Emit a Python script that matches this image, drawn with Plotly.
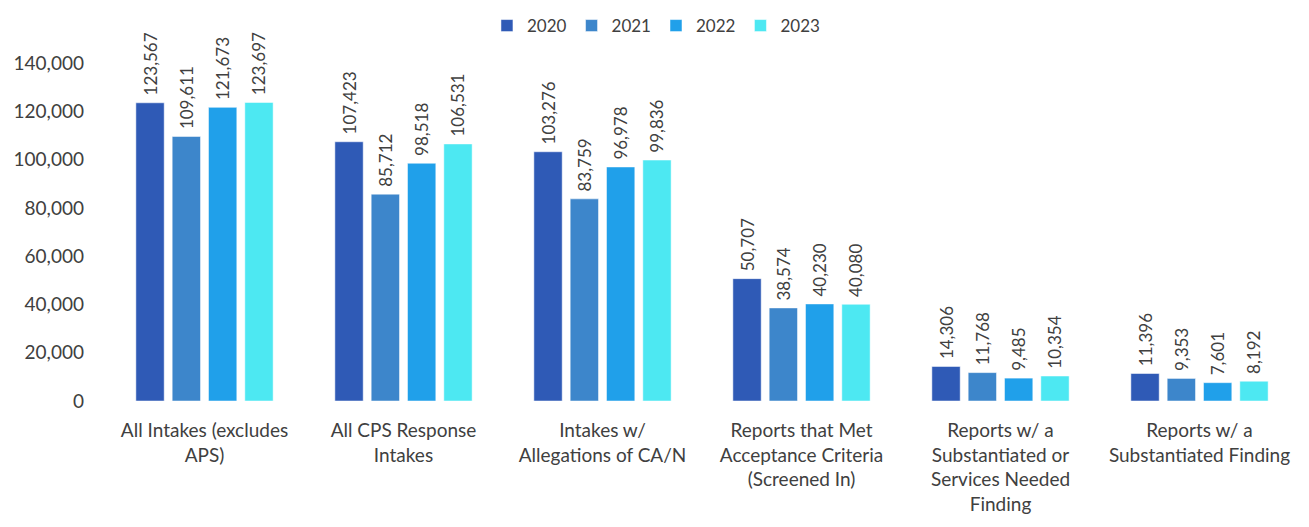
import plotly.graph_objects as go

categories = [
    "All Intakes (excludes<br>APS)",
    "All CPS Response<br>Intakes",
    "Intakes w/<br>Allegations of CA/N",
    "Reports that Met<br>Acceptance Criteria<br>(Screened In)",
    "Reports w/ a<br>Substantiated or<br>Services Needed<br>Finding",
    "Reports w/ a<br>Substantiated Finding",
]
years = ["2020", "2021", "2022", "2023"]
values_2020 = [123567, 107423, 103276, 50707, 14306, 11396]
values_2021 = [109611, 85712, 83759, 38574, 11768, 9353]
values_2022 = [121673, 98518, 96978, 40230, 9485, 7601]
values_2023 = [123697, 106531, 99836, 40080, 10354, 8192]
series = [values_2020, values_2021, values_2022, values_2023]
colors = ["#2F5AB6", "#3D86CB", "#20A0EA", "#4DE8F2"]

fig = go.Figure()
for year, vals, col in zip(years, series, colors):
    fig.add_trace(go.Bar(
        name=year,
        x=categories,
        y=vals,
        marker=dict(color=col, line=dict(color="white", width=0.5)),
        # leading nbsp leaves a small gap above the bar, like the original
        text=["\u00a0" + f"{v:,}" for v in vals],
        textposition="outside",
        textangle=-90,
        textfont=dict(size=17, color="#404040"),
        constraintext="none",
        cliponaxis=False,
    ))

# page body adds 8px offset, so margins are shifted to compensate
fig.update_layout(
    width=1309,
    height=527,
    barmode="group",
    bargap=0.27,
    bargroupgap=0.22,
    plot_bgcolor="white",
    paper_bgcolor="white",
    font=dict(family="Lato, Open Sans, sans-serif", size=19, color="#404040"),
    margin=dict(l=97, r=18, t=31, b=134, autoexpand=False),
    legend=dict(
        orientation="h",
        xref="container",
        x=0.495,
        xanchor="center",
        yref="container",
        y=1.0,
        yanchor="top",
        font=dict(size=17, color="#404040"),
        itemwidth=30,
    ),
    yaxis=dict(
        range=[0, 150000],
        tickvals=[0, 20000, 40000, 60000, 80000, 100000, 120000, 140000],
        tickformat=",",
        showgrid=False,
        zeroline=False,
        showline=False,
        ticks="",
        ticklabelstandoff=20,
        tickfont=dict(size=19),
        automargin=False,
    ),
    xaxis=dict(
        showgrid=False,
        showline=False,
        ticks="",
        tickangle=0,
        ticklabelstandoff=16,
        tickfont=dict(size=19),
        automargin=False,
    ),
)

fig.write_html("out.html")
